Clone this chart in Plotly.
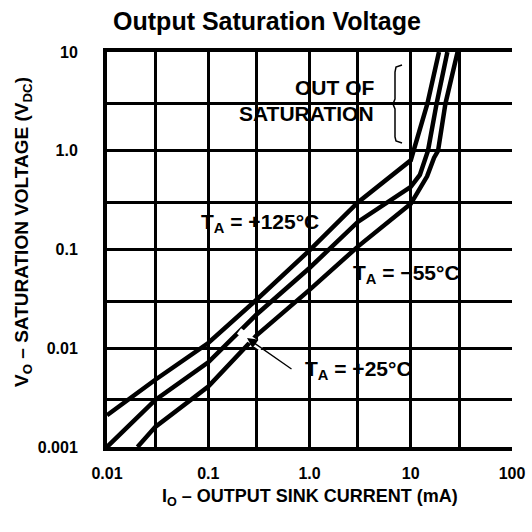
import plotly.graph_objects as go

# ---------------- data ----------------
x_125 = [0.01, 0.03, 0.1, 0.3, 1, 3, 10, 10.7, 14.6, 19]
y_125 = [0.0021, 0.0048, 0.0113, 0.031, 0.098, 0.30, 0.80, 1.0, 3.0, 10]

x_25 = [0.01, 0.03, 0.1, 0.3, 1, 3, 10, 12.3, 14.8, 18, 23]
y_25 = [0.001, 0.003, 0.0072, 0.022, 0.065, 0.19, 0.43, 0.57, 1.0, 3.0, 10]

x_m55 = [0.02, 0.03, 0.1, 0.3, 1, 3, 10, 12, 14.5, 17, 18.6, 22, 29]
y_m55 = [0.001, 0.0016, 0.0041, 0.0135, 0.039, 0.107, 0.29, 0.40, 0.55, 0.85, 1.0, 3.0, 10]

x_tick_vals = [0.01, 0.1, 1, 10, 100]
x_tick_text = ["0.01", "0.1", "1.0", "10", "100"]
x_grid_vals = [0.03, 0.1, 0.3, 1, 3, 10, 30]

y_tick_vals = [0.001, 0.01, 0.1, 1, 10]
y_tick_text = ["0.001", "0.01", "0.1", "1.0", "10"]
y_grid_vals = [0.003, 0.03, 0.3, 3]

# ---------------- layout helpers ----------------
W = H = 532
L, R, T, B = 107, 20, 52, 85
PW, PH = W - L - R, H - T - B


def fx(p):
    return (p - L) / PW


def fy(p):
    return (H - B - p) / PH


FONT = "Liberation Sans Narrow, Arial Narrow, Liberation Sans, Arial, sans-serif"
BOLD = "Liberation Sans, Arial, sans-serif"

fig = go.Figure()
for xs, ys in [(x_125, y_125), (x_25, y_25), (x_m55, y_m55)]:
    fig.add_trace(go.Scatter(x=xs, y=ys, mode="lines",
                             line=dict(color="black", width=4.5),
                             hoverinfo="skip", showlegend=False))

fig.update_xaxes(type="log", range=[-2, 2], automargin=False,
                 tickmode="array", tickvals=x_tick_vals, ticktext=x_tick_text,
                 showgrid=False, ticks="", ticklabelstandoff=9,
                 tickfont=dict(family=BOLD, size=16, color="black", weight="bold"),
                 minor=dict(tickmode="array", tickvals=x_grid_vals, showgrid=True,
                            gridcolor="black", gridwidth=2.5, ticks=""),
                 showline=True, linecolor="black", linewidth=4, mirror=True,
                 zeroline=False)
fig.update_yaxes(type="log", range=[-3, 1], automargin=False,
                 tickmode="array", tickvals=y_tick_vals, ticktext=y_tick_text,
                 showgrid=True, gridcolor="black", gridwidth=3, ticks="",
                 ticklabelstandoff=22,
                 tickfont=dict(family=BOLD, size=16, color="black", weight="bold"),
                 minor=dict(tickmode="array", tickvals=y_grid_vals, showgrid=True,
                            gridcolor="black", gridwidth=2.5, ticks=""),
                 showline=True, linecolor="black", linewidth=4, mirror=False,
                 zeroline=False)

shapes = []
# white label backgrounds (between grid and traces)
for (x0, y0, x1, y1) in [(233, 70, 393, 128), (197, 207, 325, 240),
                         (345, 252, 468, 295), (300, 353, 418, 392)]:
    shapes.append(dict(type="rect", xref="paper", yref="paper",
                       x0=fx(x0), x1=fx(x1), y0=fy(y1), y1=fy(y0),
                       fillcolor="white", line=dict(width=0), layer="between"))
# gap in curves around the arrow head
shapes.append(dict(type="line", xref="paper", yref="paper",
                   x0=fx(239), y0=fy(331), x1=fx(262), y1=fy(348),
                   line=dict(color="white", width=7), layer="above"))
# bracket "{"
bx = [(402, 65), (396, 67), (395, 72), (395, 99), (393, 104), (395, 109),
      (395, 137), (396, 141), (402, 143)]
path = "M " + " L ".join(f"{fx(a):.5f},{fy(b):.5f}" for a, b in bx)
shapes.append(dict(type="path", xref="paper", yref="paper", path=path,
                   line=dict(color="black", width=1.5), layer="above"))

ann = []


def label(text, cx, cy, size=21, anchor="center"):
    ann.append(dict(text=text, xref="paper", yref="paper", x=fx(cx), y=fy(cy),
                    showarrow=False, xanchor=anchor, yanchor="middle",
                    font=dict(family=FONT, size=size, color="black", weight="bold")))


label("OUT OF", 376, 87, anchor="right")
label("SATURATION", 376, 113, anchor="right")
label("T<sub>A</sub> = +125°C", 260, 223)
label("T<sub>A</sub> = −55°C", 406, 274)
label("T<sub>A</sub> = +25°C", 358, 370)
# arrow
ann.append(dict(text="", xref="paper", yref="paper", x=fx(247), y=fy(338),
                ax=46, ay=32, showarrow=True, arrowhead=2, arrowsize=1.6,
                arrowwidth=1.3, arrowcolor="black"))
# axis titles
label("I<sub>O</sub> – OUTPUT SINK CURRENT (mA)", 310, 497, size=18)
ann.append(dict(text="V<sub>O</sub> – SATURATION VOLTAGE (V<sub>DC</sub>)",
                xref="paper", yref="paper", x=fx(23), y=fy(232), showarrow=False,
                textangle=-90, xanchor="center", yanchor="middle",
                font=dict(family=FONT, size=19, color="black", weight="bold")))

fig.update_layout(
    width=W, height=H, margin=dict(l=L, r=R, t=T, b=B, autoexpand=False),
    paper_bgcolor="white", plot_bgcolor="white",
    title=dict(text="<b>Output Saturation Voltage</b>", x=267 / W, xanchor="center",
               y=1 - 21 / H, yanchor="middle", yref="container",
               font=dict(family=BOLD, size=25, color="black")),
    shapes=shapes, annotations=ann, showlegend=False,
)

fig.write_html("out.html", config={"displayModeBar": False},
               post_script="document.body.style.margin='0';"
                           "document.body.style.padding='0';")
